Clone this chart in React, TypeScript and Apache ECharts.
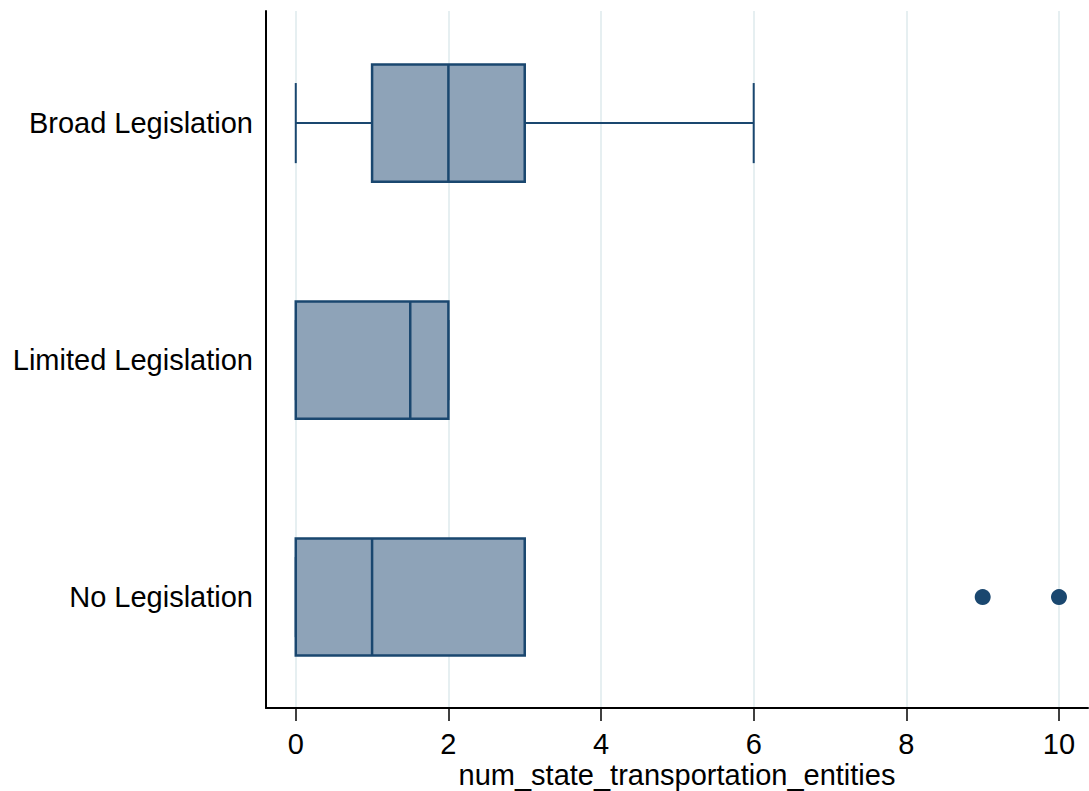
import React, { useEffect, useRef } from "react";
import * as echarts from "echarts";

const categories = ["Broad Legislation", "Limited Legislation", "No Legislation"];
const minVals = [0, 0, 0];
const q1Vals = [1, 0, 0];
const medianVals = [2, 1.5, 1];
const q3Vals = [3, 2, 3];
const maxVals = [6, 2, 3];
const outlierCats = [2, 2];
const outlierVals = [9, 10];
const xTicks = [0, 2, 4, 6, 8, 10];
const catIndex = [0, 1, 2];
const xTitle = "num_state_transportation_entities";

const NAVY = "#1a476f";
const FILL = "#8ea3b8";
const GRID = "#e6eff1";
const FONT = "'Liberation Sans', Arial, sans-serif";

export default function App() {
  const ref = useRef<HTMLDivElement>(null);
  useEffect(() => {
    if (!ref.current) return;
    const chart = echarts.init(ref.current, null, { renderer: "svg" });
    const boxData = categories.map((_, i) => [i, minVals[i], q1Vals[i], medianVals[i], q3Vals[i], maxVals[i]]);
    const outData = outlierCats.map((c, i) => [outlierVals[i], c]);
    const BOX_HALF = 0.247;
    const CAP_HALF = 0.169;
    chart.setOption({
      animation: false,
      grid: { left: 266, right: 1, top: 11, bottom: 83, outerBoundsMode: "none", containLabel: false },
      graphic: [
        {
          type: "text",
          x: 677,
          y: 775,
          style: {
            text: xTitle,
            fontFamily: FONT,
            fontSize: 29,
            lineHeight: 29,
            fill: "#000",
            align: "center",
            verticalAlign: "middle",
          },
        },
      ],
      xAxis: {
        type: "value",
        min: -0.39,
        max: 10.38,
        axisLine: { show: true, onZero: false, lineStyle: { color: "#000", width: 2 } },
        axisTick: { show: true, customValues: xTicks, length: 13, lineStyle: { color: "#000", width: 1.5 } },
        axisLabel: { customValues: xTicks, margin: 21, fontFamily: FONT, fontSize: 29, lineHeight: 29, color: "#000" },
        splitLine: { show: false },
      },
      yAxis: {
        type: "value",
        inverse: true,
        min: -0.473,
        max: 2.468,
        axisLine: { show: true, onZero: false, lineStyle: { color: "#000", width: 2 } },
        axisTick: { show: false, customValues: catIndex },
        axisLabel: {
          customValues: catIndex,
          margin: 13,
          fontFamily: FONT,
          fontSize: 29,
          color: "#000",
          formatter: (v: number) => categories[Math.round(v)] ?? "",
        },
        splitLine: { show: false },
      },
      series: [
        {
          type: "line",
          data: [],
          silent: true,
          z: 0,
          markLine: {
            silent: true,
            z: 0,
            symbol: ["none", "none"],
            label: { show: false },
            lineStyle: { color: GRID, width: 2, type: "solid" },
            data: xTicks.map((t) => ({ xAxis: t })),
          },
        },
        {
          type: "custom",
          z: 5,
          data: boxData,
          renderItem: (params: any, api: any) => {
            const c = api.value(0);
            const mn = api.value(1);
            const q1 = api.value(2);
            const md = api.value(3);
            const q3 = api.value(4);
            const mx = api.value(5);
            const yc = api.coord([0, c])[1];
            const yt = api.coord([0, c - BOX_HALF])[1];
            const yb = api.coord([0, c + BOX_HALF])[1];
            const ct = api.coord([0, c - CAP_HALF])[1];
            const cb = api.coord([0, c + CAP_HALF])[1];
            const px = (v: number) => api.coord([v, c])[0];
            const ls = { stroke: NAVY, lineWidth: 2 };
            return {
              type: "group",
              children: [
                { type: "line", shape: { x1: px(mn), y1: yc, x2: px(q1), y2: yc }, style: ls },
                { type: "line", shape: { x1: px(q3), y1: yc, x2: px(mx), y2: yc }, style: ls },
                { type: "line", shape: { x1: px(mn), y1: ct, x2: px(mn), y2: cb }, style: ls },
                { type: "line", shape: { x1: px(mx), y1: ct, x2: px(mx), y2: cb }, style: ls },
                {
                  type: "rect",
                  shape: { x: px(q1), y: yt, width: px(q3) - px(q1), height: yb - yt },
                  style: { fill: FILL, stroke: NAVY, lineWidth: 2.5 },
                },
                { type: "line", shape: { x1: px(md), y1: yt, x2: px(md), y2: yb }, style: { stroke: NAVY, lineWidth: 2.5 } },
              ],
            };
          },
        },
        {
          type: "scatter",
          z: 6,
          data: outData,
          symbol: "circle",
          symbolSize: 16,
          itemStyle: { color: NAVY, opacity: 1 },
        },
      ],
    });
    return () => chart.dispose();
  }, []);
  return <div ref={ref} style={{ position: "fixed", left: 0, top: 0, width: 1089, height: 791, background: "#fff" }} />;
}
